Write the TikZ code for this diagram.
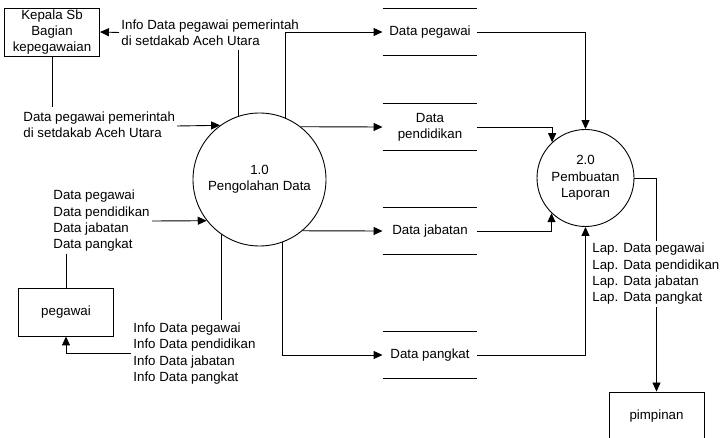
\documentclass[tikz,border=0pt]{standalone}
\usepackage{fontspec}
\setmainfont{Liberation Sans}
\usetikzlibrary{arrows.meta}
\begin{document}
\begin{tikzpicture}[x=1pt,y=-1pt,
  font=\fontsize{13.3}{16.3}\selectfont,
  line width=0.9pt,
  >={Triangle[length=9pt,width=8pt]},
  entity/.style={draw, rectangle, minimum width=95pt, minimum height=48pt, inner sep=0pt, align=center},
  proc/.style={draw, circle, inner sep=0pt, align=center},
  lbl/.style={inner sep=2pt, align=left},
  storebox/.style={rectangle, minimum width=94pt, minimum height=47pt, inner sep=0pt, align=center}]
\useasboundingbox (0,0) rectangle (721,438);
\clip (0,0) rectangle (721,438);
\fill[white] (0,0) rectangle (721,438);

% external entities
\node[entity] (kepala) at (52,32) {Kepala Sb\\Bagian\\kepegawaian};
\node[entity] (peg) at (66,312) {pegawai};
\node[entity] (pim) at (656.5,416) {pimpinan};

% processes
\node[proc, minimum size=133pt] (p1) at (259.5,179.5) {1.0\\Pengolahan Data};
\node[proc, minimum size=97pt] (p2) at (585.5,178) {2.0\\Pembuatan\\Laporan};

% data stores
\node[storebox] (sPeg) at (430,32) {Data pegawai};
\node[storebox] (sPend) at (430,127) {Data\\pendidikan};
\node[storebox] (sJab) at (430,231) {Data jabatan};
\node[storebox] (sPang) at (430,355) {Data pangkat};
\foreach \s in {sPeg,sPend,sJab,sPang}{
  \draw (\s.north west) -- (\s.north east);
  \draw (\s.south west) -- (\s.south east);
}

% labels
\node[lbl, anchor=west] (lab1) at (119,32.5) {Info Data pegawai pemerintah\\di setdakab Aceh Utara};
\node[lbl, anchor=west] (lab2) at (21,125) {Data pegawai pemerintah\\di setdakab Aceh Utara};
\node[lbl, anchor=west] (lab3) at (51,221) {Data pegawai\\Data pendidikan\\Data jabatan\\Data pangkat};
\node[lbl, anchor=west] (lab4) at (131,353.5) {Info Data pegawai\\Info Data pendidikan\\Info Data jabatan\\Info Data pangkat};
\node[lbl, anchor=west] (lab5) at (590,274) {Lap. Data pegawai\\Lap. Data pendidikan\\Lap. Data jabatan\\Lap. Data pangkat};

\coordinate (c1) at (238,50);
\coordinate (c2) at (177,126);
\coordinate (c3) at (52,107);

% flows around process 1.0
\draw (p1.108.9) -- (p1.108.9 |- c1);
\draw[->] (lab1.west) -- (kepala.east);
\draw (kepala.south) -- (c3);
\draw[->] (c2) -- (p1.126.4);
\draw[->] (lab3.east |- 0,221) -- (p1.218.6);
\draw (peg.north) -- (peg.north |- lab3.south);
\draw (p1.-125.4) -- (p1.-125.4 |- lab4.north);
\draw[->] (lab4.west) -| (peg.south);

% flows to data stores
\draw[->] (p1.67.4) |- (sPeg.west);
\draw[->] (p1.52.2) -- (sPend.west);
\draw[->] (p1.-50.7) -- (sJab.west);
\draw[->] (p1.-70.2) |- (sPang.west);

% flows to process 2.0
\draw[->] (sPeg.east) -| (p2.north);
\draw[->] (sPend.east) -| (p2.133.7);
\draw[->] (sJab.east) -| (p2.226.3);
\draw[->] (sPang.east) -| (p2.south);

% report output
\draw (p2.east) -| (pim.north |- lab5.north);
\draw[->] (pim.north |- lab5.south) -- (pim.north);
\end{tikzpicture}
\end{document}
